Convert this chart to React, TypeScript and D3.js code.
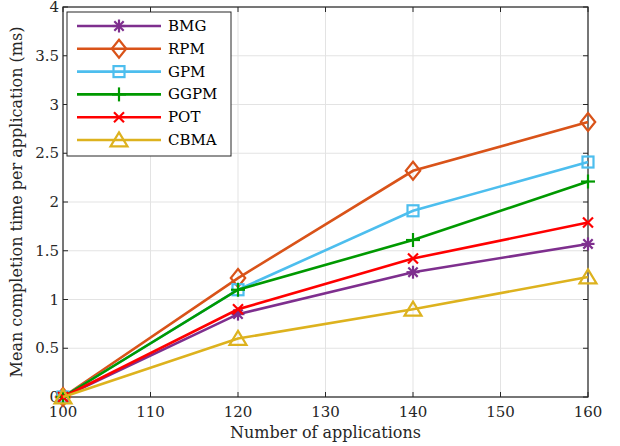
import React from "react";
import * as d3 from "d3";

const apps = [100, 120, 140, 160];
const bmg = [0, 0.85, 1.28, 1.57];
const rpm = [0, 1.22, 2.32, 2.82];
const gpm = [0, 1.1, 1.91, 2.41];
const ggpm = [0, 1.1, 1.61, 2.21];
const pot = [0, 0.9, 1.42, 1.79];
const cbma = [0, 0.6, 0.9, 1.23];

const xTicks = [100, 110, 120, 130, 140, 150, 160];
const yTicks = [0, 0.5, 1, 1.5, 2, 2.5, 3, 3.5, 4];

const series = [
  { name: "BMG", values: bmg, color: "#7E2F8E", marker: "star" },
  { name: "RPM", values: rpm, color: "#D95319", marker: "diamond" },
  { name: "GPM", values: gpm, color: "#4DBEEE", marker: "square" },
  { name: "GGPM", values: ggpm, color: "#009900", marker: "plus" },
  { name: "POT", values: pot, color: "#FF0000", marker: "cross" },
  { name: "CBMA", values: cbma, color: "#DDB21E", marker: "triangle" },
];

const W = 620, H = 446;
const m = { left: 63, right: 32, top: 7, bottom: 49 };
const font = "'DejaVu Serif', serif";

function Marker({ type, x, y, color }: { type: string; x: number; y: number; color: string }) {
  const sw = 2.2;
  const p = { stroke: color, strokeWidth: sw, fill: "none" };
  switch (type) {
    case "star": {
      const r = 6.5, d = r * 0.72;
      return (
        <g {...p}>
          <line x1={x - r} y1={y} x2={x + r} y2={y} />
          <line x1={x} y1={y - r} x2={x} y2={y + r} />
          <line x1={x - d} y1={y - d} x2={x + d} y2={y + d} />
          <line x1={x - d} y1={y + d} x2={x + d} y2={y - d} />
        </g>
      );
    }
    case "diamond": {
      const r = 9;
      return <path {...p} d={`M${x},${y - r}L${x + r * 0.8},${y}L${x},${y + r}L${x - r * 0.8},${y}Z`} />;
    }
    case "square": {
      const r = 5.5;
      return <rect {...p} x={x - r} y={y - r} width={2 * r} height={2 * r} />;
    }
    case "plus": {
      const r = 7;
      return (
        <g {...p}>
          <line x1={x - r} y1={y} x2={x + r} y2={y} />
          <line x1={x} y1={y - r} x2={x} y2={y + r} />
        </g>
      );
    }
    case "cross": {
      const r = 5;
      return (
        <g {...p}>
          <line x1={x - r} y1={y - r} x2={x + r} y2={y + r} />
          <line x1={x - r} y1={y + r} x2={x + r} y2={y - r} />
        </g>
      );
    }
    default: {
      const r = 8.5;
      return <path {...p} d={`M${x},${y - r * 0.9}L${x + r},${y + r * 0.75}L${x - r},${y + r * 0.75}Z`} />;
    }
  }
}

export default function App() {
  const x = d3.scaleLinear().domain([100, 160]).range([m.left, W - m.right]);
  const y = d3.scaleLinear().domain([0, 4]).range([H - m.bottom, m.top]);
  const line = d3.line<number>().x((_, i) => x(apps[i])).y((d) => y(d));
  const x0 = x.range()[0], x1 = x.range()[1];
  const y0 = y.range()[0], y1 = y.range()[1];

  const lg = { x: 67, y: 12, w: 164, h: 144, row: 22.8 };

  return (
    <svg width={W} height={H} style={{ position: "fixed", left: 0, top: 0, background: "white", fontFamily: font }}>
      <rect x={0} y={0} width={W} height={H} fill="white" />
      {xTicks.map((t) => (
        <line key={"gx" + t} x1={x(t)} x2={x(t)} y1={y0} y2={y1} stroke="#e3e3e3" strokeWidth={1} />
      ))}
      {yTicks.map((t) => (
        <line key={"gy" + t} x1={x0} x2={x1} y1={y(t)} y2={y(t)} stroke="#e3e3e3" strokeWidth={1} />
      ))}
      {xTicks.map((t) => (
        <g key={"tx" + t} stroke="#262626" strokeWidth={1}>
          <line x1={x(t)} x2={x(t)} y1={y0} y2={y0 - 5} />
          <line x1={x(t)} x2={x(t)} y1={y1} y2={y1 + 5} />
        </g>
      ))}
      {yTicks.map((t) => (
        <g key={"ty" + t} stroke="#262626" strokeWidth={1}>
          <line x1={x0} x2={x0 + 5} y1={y(t)} y2={y(t)} />
          <line x1={x1} x2={x1 - 5} y1={y(t)} y2={y(t)} />
        </g>
      ))}
      <rect x={x0} y={y1} width={x1 - x0} height={y0 - y1} fill="none" stroke="#262626" strokeWidth={1.2} />
      {xTicks.map((t) => (
        <text key={"lx" + t} x={x(t)} y={y0 + 20} textAnchor="middle" fontSize={15} fill="#262626">{t}</text>
      ))}
      {yTicks.map((t) => (
        <text key={"ly" + t} x={x0 - 4} y={y(t) + 5} textAnchor="end" fontSize={15} fill="#262626">{t}</text>
      ))}
      <text x={(x0 + x1) / 2} y={438} textAnchor="middle" fontSize={16} fill="#262626">Number of applications</text>
      <text transform={`translate(22,${(y0 + y1) / 2}) rotate(-90)`} textAnchor="middle" fontSize={16} fill="#262626">
        Mean completion time per application (ms)
      </text>
      {series.map((s) => (
        <g key={s.name}>
          <path d={line(s.values) || ""} fill="none" stroke={s.color} strokeWidth={2.6} />
          {s.values.map((v, i) => (
            <Marker key={i} type={s.marker} x={x(apps[i])} y={y(v)} color={s.color} />
          ))}
        </g>
      ))}
      <g>
        <rect x={lg.x} y={lg.y} width={lg.w} height={lg.h} fill="white" stroke="#262626" strokeWidth={1} />
        {series.map((s, i) => {
          const cy = lg.y + 14 + i * lg.row;
          return (
            <g key={"lg" + s.name}>
              <line x1={lg.x + 10} x2={lg.x + 94} y1={cy} y2={cy} stroke={s.color} strokeWidth={2.6} />
              <Marker type={s.marker} x={lg.x + 52} y={cy} color={s.color} />
              <text x={lg.x + 101} y={cy + 5} fontSize={15} fill="#000">{s.name}</text>
            </g>
          );
        })}
      </g>
    </svg>
  );
}
